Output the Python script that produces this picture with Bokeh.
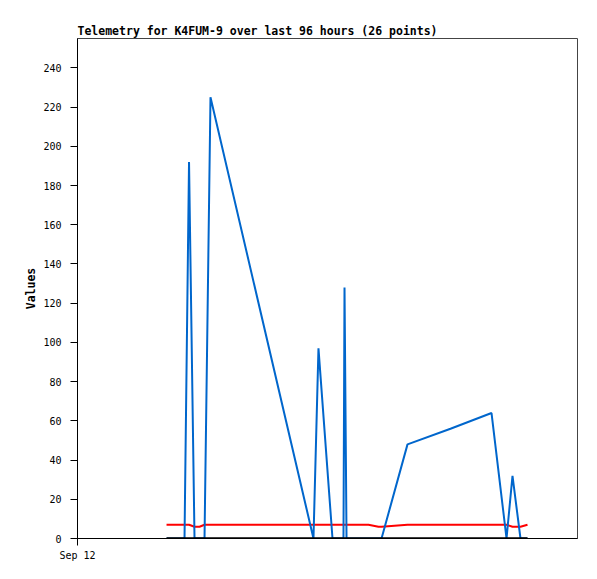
from datetime import datetime
from bokeh.plotting import figure
from bokeh.models import FixedTicker, Range1d, DatetimeTickFormatter
from bokeh.embed import file_html
from bokeh.resources import INLINE

title_text = "Telemetry for K4FUM-9 over last 96 hours (26 points)"
y_label = "Values"
x_start = "2024-09-12 00:00"
x_end = "2024-09-17 00:00"
x_tick = "2024-09-12 00:00"
y_ticks = [0, 20, 40, 60, 80, 100, 120, 140, 160, 180, 200, 220, 240]

times = [
    "2024-09-12 21:22", "2024-09-12 23:31", "2024-09-13 01:41", "2024-09-13 02:46",
    "2024-09-13 04:05", "2024-09-13 05:17", "2024-09-13 06:29", "2024-09-13 07:55",
    "2024-09-14 08:38", "2024-09-14 09:50", "2024-09-14 13:12", "2024-09-14 15:50",
    "2024-09-14 16:05", "2024-09-14 16:34", "2024-09-14 18:14", "2024-09-14 19:55",
    "2024-09-14 21:50", "2024-09-15 00:14", "2024-09-15 00:58", "2024-09-15 07:12",
    "2024-09-15 17:31", "2024-09-16 03:22", "2024-09-16 06:58", "2024-09-16 08:24",
    "2024-09-16 10:19", "2024-09-16 12:00",
]
series_blue = [0, 0, 0, 192, 0, 0, 0, 225, 0, 97, 0, 0, 128, 0, 0, 0, 0, 0, 0, 48, 56, 64, 0, 32, 0, 0]
series_red = [7, 7, 7, 7, 6, 6, 7, 7, 7, 7, 7, 7, 7, 7, 7, 7, 7, 6, 6, 7, 7, 7, 7, 6, 6, 7]
series_black = [0] * 26

def dt(s):
    return datetime.strptime(s, "%Y-%m-%d %H:%M")

x = [dt(t) for t in times]

p = figure(width=590, height=575, output_backend="svg", toolbar_location=None,
           x_axis_type="datetime",
           x_range=Range1d(dt(x_start), dt(x_end)), y_range=Range1d(0, 255),
           min_border_left=77, min_border_right=13, min_border_top=38, min_border_bottom=37)

p.title.text = title_text
p.title.text_font = "DejaVu Sans Mono"
p.title.text_font_size = "11.5px"
p.title.text_font_style = "bold"
p.title.text_color = "black"
p.title.standoff = 2
p.title.offset = 0

p.xgrid.visible = False
p.ygrid.visible = False
p.outline_line_color = "#444444"
p.outline_line_width = 1
p.background_fill_color = "white"
p.border_fill_color = "white"

p.line(x, series_red, line_color="#ff0000", line_width=2)
p.line(x, series_blue, line_color="#0066cc", line_width=2)
p.line(x, series_black, line_color="#000000", line_width=2.5)

fmt = "%b %d"
xa = p.xaxis[0]
xa.ticker = FixedTicker(ticks=[dt(x_tick).timestamp() * 1000], minor_ticks=[])
xa.formatter = DatetimeTickFormatter(years=fmt, months=fmt, days=fmt, hours=fmt,
                                     hourmin=fmt, minutes=fmt, minsec=fmt,
                                     seconds=fmt, milliseconds=fmt, microseconds=fmt,
                                     context=None)
xa.major_tick_out = 7
xa.major_tick_in = 0
xa.minor_tick_out = 0
xa.minor_tick_in = 0
xa.major_label_text_font = "DejaVu Sans Mono"
xa.major_label_text_font_size = "10px"
xa.major_label_text_color = "black"
xa.major_label_standoff = 4
xa.axis_line_color = "black"
xa.major_tick_line_color = "black"

ya = p.yaxis[0]
ya.ticker = FixedTicker(ticks=y_ticks, minor_ticks=[])
ya.major_tick_out = 7
ya.major_tick_in = 0
ya.minor_tick_out = 0
ya.minor_tick_in = 0
ya.major_label_text_font = "DejaVu Sans Mono"
ya.major_label_text_font_size = "10px"
ya.major_label_text_color = "black"
ya.major_label_standoff = 9
ya.axis_label = y_label
ya.axis_label_text_font = "DejaVu Sans Mono"
ya.axis_label_text_font_size = "11.5px"
ya.axis_label_text_font_style = "bold"
ya.axis_label_text_color = "black"
ya.axis_label_standoff = 2
ya.axis_line_color = "black"
ya.major_tick_line_color = "black"

open("out.html", "w").write(file_html(p, INLINE))
